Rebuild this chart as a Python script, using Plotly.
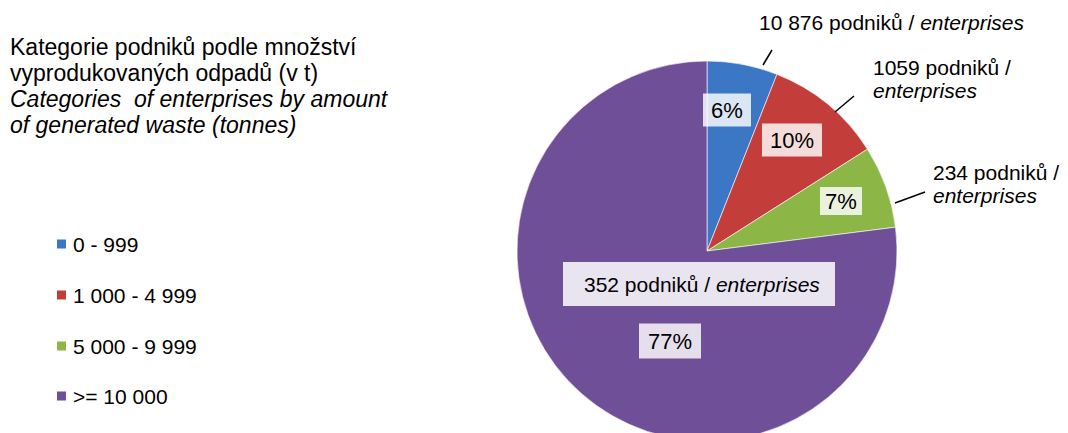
import plotly.graph_objects as go

# ---- data ----
categories = ["0 - 999", "1 000 - 4 999", "5 000 - 9 999", ">= 10 000"]
shares = [6, 10, 7, 77]
counts = ["10 876", "1059", "234", "352"]
colors = ["#3B77C4", "#C33E3B", "#8CB646", "#6F4F98"]
title_lines = ["Kategorie podniků podle množství",
               "vyprodukovaných odpadů (v t)",
               "<i>Categories  of enterprises by amount</i>",
               "<i>of generated waste (tonnes)</i>"]

W, H = 1060, 440
OFF = 8  # page body margin
FONT = "Liberation Sans, Arial, sans-serif"


def px(x):
    return (x - OFF) / W


def py(y):
    return 1 - (y - OFF) / H


cx, cy, r = 707, 251, 190

fig = go.Figure()
fig.add_trace(go.Pie(
    labels=categories, values=shares, sort=False, direction="clockwise",
    rotation=0, textinfo="none", hoverinfo="label+percent",
    marker=dict(colors=colors, line=dict(color="rgba(255,255,255,0.6)", width=1)),
    domain=dict(x=[px(cx - r), px(cx + r)], y=[py(cy + r), py(cy - r)]),
    showlegend=False,
))

ann = []
# title
for t, yy in zip(title_lines, [47, 73, 99, 125]):
    ann.append(dict(x=px(8), y=py(yy), xref="paper", yref="paper", text=t,
                    showarrow=False, xanchor="left", yanchor="middle",
                    font=dict(size=23, color="#000", family=FONT)))

# manual legend
shapes = []
for c, lab, yy in zip(colors, categories, [244, 295, 346, 396]):
    shapes.append(dict(type="rect", xref="paper", yref="paper",
                       x0=px(57), x1=px(66), y0=py(yy + 4.5), y1=py(yy - 4.5),
                       fillcolor=c, line=dict(width=0)))
    ann.append(dict(x=px(71), y=py(yy), xref="paper", yref="paper", text=lab,
                    showarrow=False, xanchor="left", yanchor="middle",
                    font=dict(size=21, color="#000", family=FONT)))

# percentage boxes
pct_pos = [(727, 110, 48, 33), (792, 140, 60, 33), (841, 201, 42, 28), (670, 341, 62, 35)]
for v, (x, y, w, h) in zip(shares, pct_pos):
    shapes.append(dict(type="rect", xref="paper", yref="paper",
                       x0=px(x - w / 2), x1=px(x + w / 2), y0=py(y + h / 2), y1=py(y - h / 2),
                       fillcolor="rgba(255,255,255,0.82)", line=dict(width=0), layer="above"))
    ann.append(dict(x=px(x), y=py(y), xref="paper", yref="paper", text=f"{v}%",
                    showarrow=False, xanchor="center", yanchor="middle",
                    font=dict(size=22, color="#000", family=FONT)))

# count labels
shapes.append(dict(type="rect", xref="paper", yref="paper",
                   x0=px(563), x1=px(835), y0=py(306), y1=py(262),
                   fillcolor="rgba(255,255,255,0.85)", line=dict(width=0), layer="above"))
ann.append(dict(x=px(582), y=py(284), xref="paper", yref="paper",
                text=f"{counts[3]} podniků / <i>enterprises</i>", showarrow=False,
                xanchor="left", yanchor="middle", font=dict(size=21, color="#000", family=FONT)))

count_labels = [
    (f"{counts[0]} podniků / <i>enterprises</i>", 757, 23),
    (f"{counts[1]} podniků /", 871, 68),
    ("<i>enterprises</i>", 871, 91),
    (f"{counts[2]} podniků /", 931, 172),
    ("<i>enterprises</i>", 931, 195),
]
for t, x, y in count_labels:
    ann.append(dict(x=px(x), y=py(y), xref="paper", yref="paper", text=t,
                    showarrow=False, xanchor="left", yanchor="middle",
                    font=dict(size=21, color="#000", family=FONT)))

# leader lines
for x0, y0, x1, y1 in [(763, 65, 772, 50), (835, 112, 854, 96), (895, 203, 925, 192)]:
    shapes.append(dict(type="line", xref="paper", yref="paper",
                       x0=px(x0), y0=py(y0), x1=px(x1), y1=py(y1),
                       line=dict(color="#000", width=1.5)))

fig.update_layout(
    width=W, height=H, margin=dict(l=0, r=0, t=0, b=0, pad=0),
    paper_bgcolor="white", plot_bgcolor="white",
    annotations=ann, shapes=shapes,
    font=dict(family=FONT),
)
fig.write_html("out.html")
